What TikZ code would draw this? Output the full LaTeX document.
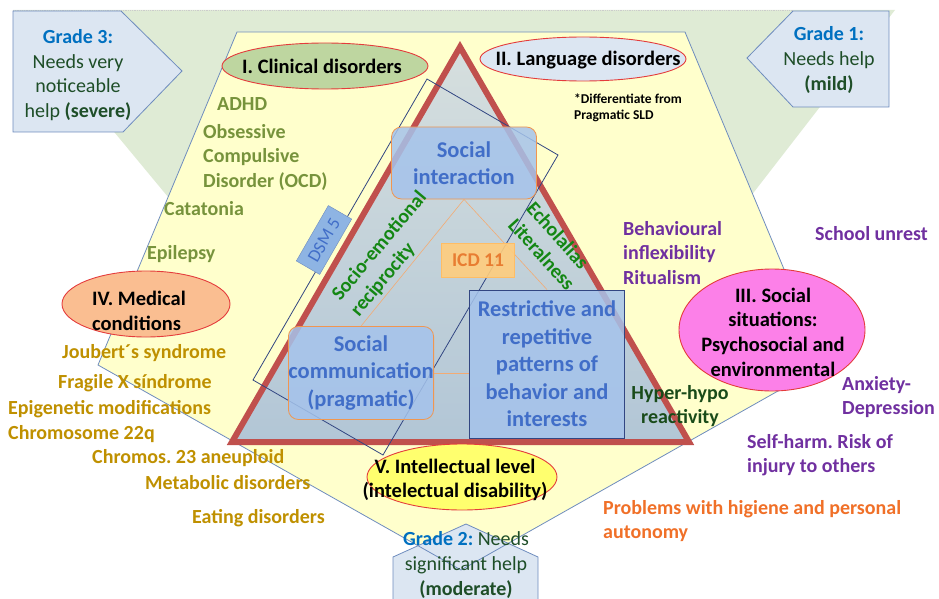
\documentclass[tikz,border=0pt]{standalone}
\usepackage{fontspec}
\setmainfont{Carlito}
\usetikzlibrary{shapes.geometric}
\frenchspacing

\definecolor{bggreen}{RGB}{223,235,213}
\definecolor{bgyellow}{RGB}{255,255,204}
\definecolor{edgeblue}{RGB}{110,140,190}
\definecolor{trired}{RGB}{192,80,77}
\definecolor{tritop}{RGB}{214,223,222}
\definecolor{tribot}{RGB}{178,198,214}
\definecolor{ellred}{RGB}{228,60,60}
\definecolor{gradefill}{RGB}{220,230,242}
\definecolor{gradeblue}{RGB}{0,112,192}
\definecolor{gradegreen}{RGB}{30,78,40}
\definecolor{clinicgreen}{RGB}{119,147,60}
\definecolor{medgold}{RGB}{191,144,0}
\definecolor{socpurple}{RGB}{112,48,160}
\definecolor{hypergreen}{RGB}{25,75,25}
\definecolor{rotgreen}{RGB}{20,135,20}
\definecolor{autorange}{RGB}{240,112,40}
\definecolor{boxtext}{RGB}{65,110,200}
\definecolor{boxfill}{RGB}{165,195,235}
\definecolor{boxline}{RGB}{240,150,80}
\definecolor{dsmline}{RGB}{50,70,130}
\definecolor{dsmfill}{RGB}{142,180,227}
\definecolor{icdfill}{RGB}{255,205,125}
\definecolor{icdtext}{RGB}{232,125,50}
\definecolor{ellI}{RGB}{190,214,160}
\definecolor{ellII}{RGB}{220,230,242}
\definecolor{ellIII}{RGB}{252,128,232}
\definecolor{ellIV}{RGB}{250,190,145}
\definecolor{ellV}{RGB}{255,255,110}

\tikzset{every node/.style={inner sep=0pt},
  txt/.style={font=\fontsize{20}{24.8}\selectfont, align=center, text=gradegreen},
  btxt/.style={font=\bfseries\fontsize{20}{24.5}\selectfont, align=left},
  etxt/.style={font=\bfseries\fontsize{20.5}{24.6}\selectfont, align=center},
  ellip/.style={draw=ellred, line width=0.9pt},
  gradebox/.style={draw=edgeblue, fill=gradefill, line width=0.8pt},
  inbox/.style={draw=boxline, fill=boxfill, fill opacity=0.85, text opacity=1, line width=0.8pt,
    rounded corners=10pt, text=boxtext, align=center, font=\bfseries\fontsize{22.5}{27.5}\selectfont},
  link/.style={draw=boxline!80, line width=0.6pt}}

\begin{document}
\begin{tikzpicture}[x=1pt,y=-1pt]
  \useasboundingbox (0,0) rectangle (939,599);
  % grades funnel
  \fill[bggreen] (13,10) -- (895,10) -- (469,560) -- cycle;
  \draw[gray!40, densely dotted, line width=0.8pt] (13,10) -- (793,10);
  \draw[gradebox] (13,11) -- (121,11) -- (182,71) -- (123,132) -- (13,132) -- cycle;
  \draw[gradebox] (793,11) -- (889,11) -- (889,107) -- (793,107) -- (747,58) -- cycle;
  % axes pentagon
  \fill[bgyellow] (237,32) -- (685,32) -- (824,365) -- (461,570) -- (98,365) -- cycle;
  \draw[gradebox] (393,605) -- (393,557) -- (466,524) -- (538,557) -- (538,605) -- cycle;
  \draw[edgeblue, line width=0.8pt] (237,32) -- (685,32) -- (824,365) -- (461,570) -- (98,365) -- cycle;
  % core triangle
  \coordinate (ta) at (460,47);
  \coordinate (tb) at (232,442);
  \coordinate (tc) at (689,442);
  \draw[trired, line width=6pt, top color=tritop, bottom color=tribot] (ta) -- (tb) -- (tc) -- cycle;
  \draw[dsmline, line width=0.8pt] (427,79) -- (558,155) -- (383,455) -- (253,380) -- cycle;

  \node[inbox, minimum width=145pt, minimum height=72pt] (si) at (464,163) {Social\\interaction};
  \node[inbox, minimum width=143pt, minimum height=93pt] (sc) at (361,373) {Social\\communication\\(pragmatic)};
  \node[inbox, rounded corners=0pt, draw=dsmline, minimum width=155pt, minimum height=148pt] (rr) at (547,364)
    {Restrictive and\\repetitive\\patterns of\\behavior and\\interests};
  \draw[link] (si.south) -- (sc.north);
  \draw[link] (si.south) -- (rr.north);
  \draw[link] (sc.east) -- (sc.east -| rr.west);

  \node[draw=icdfill!80!orange, fill=icdfill, fill opacity=0.9, text opacity=1, text=icdtext,
    font=\bfseries\fontsize{19.5}{22}\selectfont, minimum width=73pt, minimum height=34pt] (icd) at (478,260) {ICD 11};
  \node[draw=edgeblue, fill=dsmfill, text=boxtext, rotate=60, font=\fontsize{18}{20}\selectfont,
    minimum width=64pt, minimum height=27pt] (dsm) at (324,240) {DSM 5};
  \node[btxt, text=rotgreen, rotate=50] (soc) at (389,254) {Socio-emotional\\reciprocity};
  \node[btxt, text=rotgreen, rotate=-48] (eco) at (551,246) {Echolalias\\Literalness};

  % the five axes
  \draw[ellip, fill=ellI] (325,66) ellipse [x radius=103, y radius=23];
  \node[etxt] (e1) at (322,66) {I. Clinical disorders};
  \draw[ellip, fill=ellII] (583,59) ellipse [x radius=103, y radius=22];
  \node[etxt] (e2) at (588,60) {II. Language disorders};
  \draw[ellip, fill=ellIII] (772,330) ellipse [x radius=93, y radius=61];
  \node[etxt] (e3) at (773,332) {III. Social\\situations:\\Psychosocial and\\environmental};
  \draw[ellip, fill=ellIV] (146,304) ellipse [x radius=84, y radius=33];
  \node[etxt, align=left, anchor=west] (e4) at (92,311) {IV. Medical\\conditions};
  \draw[ellip, fill=ellV] (462,477) ellipse [x radius=95, y radius=33];
  \node[etxt] (e5) at (455,480) {V. Intellectual level\\(intelectual disability)};

  % grades
  \node[txt] (g3) at (78,75) {\textcolor{gradeblue}{\bfseries Grade 3:}\\Needs very\\noticeable\\help \textbf{(severe)}};
  \node[txt] (g1) at (829,60) {\textcolor{gradeblue}{\bfseries Grade 1:}\\Needs help\\\textbf{(mild)}};
  \node[txt] (g2) at (466,565) {\textcolor{gradeblue}{\bfseries Grade 2:} Needs\\significant help\\\textbf{(moderate)}};

  % lists
  \node[btxt, text=clinicgreen, anchor=west] (adhd) at (217,104) {ADHD};
  \node[btxt, text=clinicgreen, anchor=west] (ocd) at (203,157) {Obsessive\\Compulsive\\Disorder (OCD)};
  \node[btxt, text=clinicgreen, anchor=west] (cat) at (164,209) {Catatonia};
  \node[btxt, text=clinicgreen, anchor=west] (epi) at (147,254) {Epilepsy};
  \node[font=\bfseries\fontsize{13.5}{16.5}\selectfont, align=left, anchor=west] (sld) at (574,108)
    {*Differentiate from\\Pragmatic SLD};

  \node[btxt, text=medgold, anchor=west] (m1) at (62,353) {Joubert´s syndrome};
  \node[btxt, text=medgold, anchor=west] (m2) at (58,383) {Fragile X síndrome};
  \node[btxt, text=medgold, anchor=west] (m3) at (8,409) {Epigenetic modifications};
  \node[btxt, text=medgold, anchor=west] (m4) at (8,434) {Chromosome 22q};
  \node[btxt, text=medgold, anchor=west] (m5) at (92,458) {Chromos. 23 aneuploid};
  \node[btxt, text=medgold, anchor=west] (m6) at (145,483) {Metabolic disorders};
  \node[btxt, text=medgold, anchor=west] (m7) at (192,518) {Eating disorders};

  \node[btxt, text=socpurple, anchor=west] (p1) at (623,253) {Behavioural\\inflexibility\\Ritualism};
  \node[btxt, text=socpurple, anchor=west] (p2) at (815,234) {School unrest};
  \node[btxt, text=socpurple, anchor=west] (p3) at (842,397) {Anxiety-\\Depression};
  \node[btxt, text=socpurple, anchor=west] (p4) at (747,455) {Self-harm. Risk of\\injury to others};
  \node[btxt, text=hypergreen, align=center] (hyp) at (680,406) {Hyper-hypo\\reactivity};
  \node[btxt, text=autorange, anchor=west] (aut) at (603,521) {Problems with higiene and personal\\autonomy};
\end{tikzpicture}
\end{document}
